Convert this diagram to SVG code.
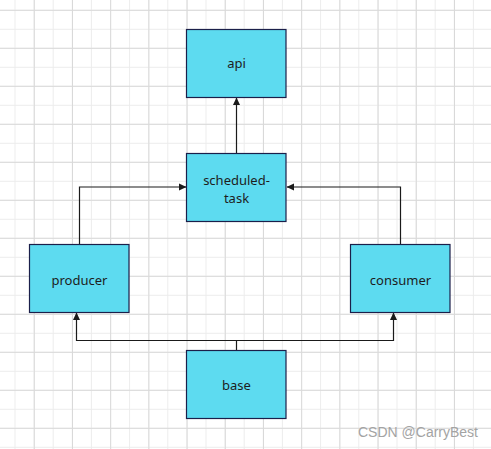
<svg xmlns="http://www.w3.org/2000/svg" width="491" height="449" viewBox="0 0 491 449">
<style>
.node{fill:#5ddbf0;stroke:#1b1f4a;stroke-width:1.2}
.lbl{font-family:"Noto Sans","Open Sans",sans-serif;font-size:13px;fill:#1d1d1d;text-anchor:middle}
.edge{fill:none;stroke:#1a1a1a;stroke-width:1.2}
.wm{font-family:"Liberation Sans",Arial,sans-serif;font-size:14px;fill:#a3a3a3}
</style>
<defs>
<pattern id="minor" patternUnits="userSpaceOnUse" x="14.5" y="9.8" width="19.1" height="19">
<path d="M0.5 0V19M0 0.5H19.1" stroke="#ececec" stroke-width="1" fill="none"/>
</pattern>
<pattern id="major" patternUnits="userSpaceOnUse" x="33.8" y="9.8" width="38.2" height="38">
<path d="M0.5 0V38M0 0.5H38.2" stroke="#d9d9d9" stroke-width="1" fill="none"/>
</pattern>
<marker id="arr" markerWidth="8" markerHeight="8" refX="7" refY="4" orient="auto" markerUnits="userSpaceOnUse">
<path d="M0 0.5L7.5 4L0 7.5Z" fill="#1a1a1a"/>
</marker>
</defs>
<rect width="491" height="449" fill="#ffffff"/>
<rect width="491" height="449" fill="url(#minor)"/>
<rect width="491" height="449" fill="url(#major)"/>
<g id="connectors">
<path class="edge" d="M236.5 153V98" marker-end="url(#arr)"/>
<path class="edge" d="M79.5 244V187H186" marker-end="url(#arr)"/>
<path class="edge" d="M400.5 244V187H287" marker-end="url(#arr)"/>
<path class="edge" d="M236.5 350V340.5H76.5V313" marker-end="url(#arr)"/>
<path class="edge" d="M236.5 340.5H393.5V313" marker-end="url(#arr)"/>
</g>
<g id="api">
<rect class="node" x="186.5" y="29.5" width="99.5" height="68"/>
<text class="lbl" x="236.5" y="68">api</text>
</g>
<g id="scheduled-task">
<rect class="node" x="186.5" y="153.5" width="99.5" height="68"/>
<text class="lbl" x="236.5" y="184.5">scheduled-</text>
<text class="lbl" x="236.5" y="203">task</text>
</g>
<g id="producer">
<rect class="node" x="29.5" y="244.5" width="99.5" height="68"/>
<text class="lbl" x="79.5" y="284.5">producer</text>
</g>
<g id="consumer">
<rect class="node" x="350.5" y="244.5" width="99.5" height="68"/>
<text class="lbl" x="400.5" y="284.5">consumer</text>
</g>
<g id="base">
<rect class="node" x="186.5" y="350.5" width="99.5" height="68"/>
<text class="lbl" x="236.5" y="389.5">base</text>
</g>
<text class="wm" x="358" y="437">CSDN @CarryBest</text>
</svg>
